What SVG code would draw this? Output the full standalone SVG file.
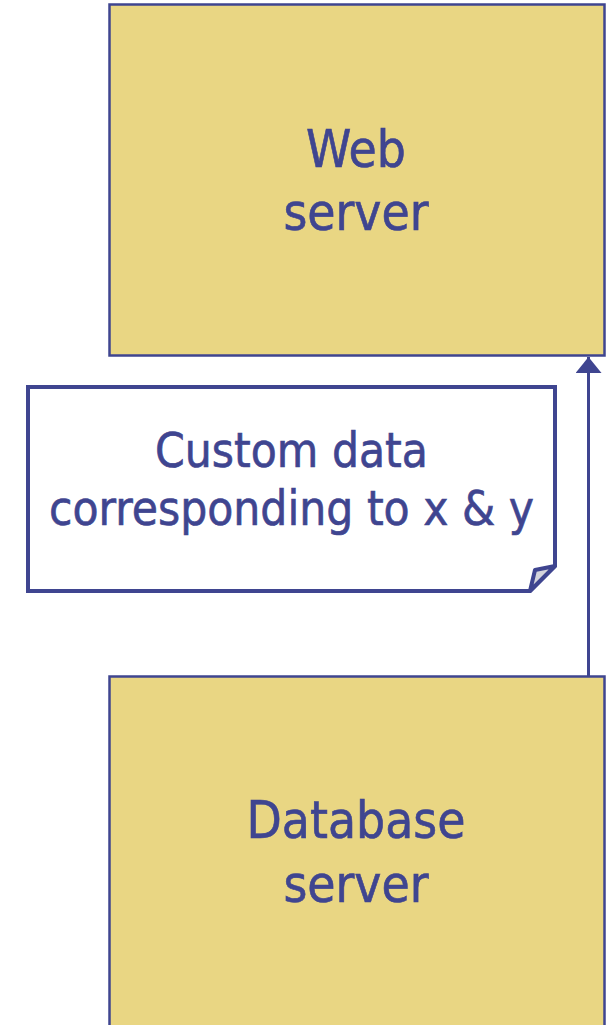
<svg xmlns="http://www.w3.org/2000/svg" width="606" height="1025" viewBox="0 0 606 1025">
  <style>
    .server { fill: #E9D683; stroke: #3F4590; stroke-width: 2.5; }
    .label { font-family: "DejaVu Sans Condensed", "DejaVu Sans", sans-serif; fill: #3F4590; stroke: #3F4590; stroke-width: 0.6; text-anchor: middle; }
    .big { font-size: 51px; }
    .mid { font-size: 47.4px; }
    .note { fill: #FFFFFF; stroke: #3F4590; stroke-width: 4; stroke-linejoin: miter; }
    .fold { fill: #D4D4DC; stroke: #3F4590; stroke-width: 4; stroke-linejoin: round; }
    .conn { stroke: #3F4590; stroke-width: 3; fill: none; }
  </style>
  <defs>
    <marker id="arrow" markerUnits="userSpaceOnUse" markerWidth="16" markerHeight="26" refX="16" refY="13" orient="auto" viewBox="0 0 16 26">
      <path d="M0,0 L16,13 L0,26 Z" fill="#3F4590"/>
    </marker>
  </defs>

  <g id="web-server">
    <rect class="server" x="109.5" y="4.5" width="495" height="351"/>
    <text class="label big" x="356" y="167">Web</text>
    <text class="label big" x="356" y="230">server</text>
  </g>

  <g id="note">
    <path class="note" d="M28,387 H555 V566 L530,591 H28 Z"/>
    <path class="fold" d="M530,591 L535,570 L555,566 Z"/>
    <text class="label mid" x="291.5" y="467">Custom data</text>
    <text class="label mid" x="291.5" y="525">corresponding to x &amp; y</text>
  </g>

  <g id="database-server">
    <rect class="server" x="109.5" y="676.5" width="495" height="360"/>
    <text class="label big" x="356" y="838">Database</text>
    <text class="label big" x="356" y="902">server</text>
  </g>

  <g id="connectors">
    <line class="conn" x1="588.5" y1="676" x2="588.5" y2="357" marker-end="url(#arrow)"/>
  </g>
</svg>
